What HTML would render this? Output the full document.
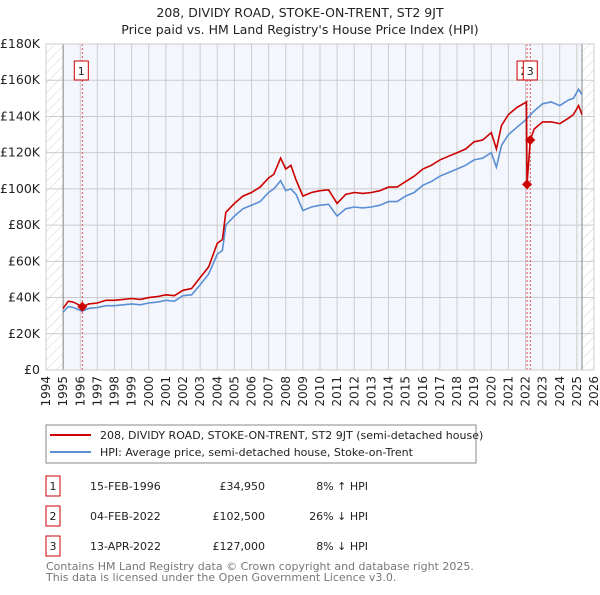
<!DOCTYPE html>
<html><head><meta charset="utf-8">
<style>
body{margin:0;background:#fff;font-family:"Liberation Sans","DejaVu Sans",sans-serif;}
svg text{font-family:"DejaVu Sans","Liberation Sans",sans-serif;}
</style></head>
<body>
<svg id="chart" width="600" height="590" xmlns="http://www.w3.org/2000/svg">
<defs>
<pattern id="hatch" width="7" height="7" patternUnits="userSpaceOnUse" patternTransform="rotate(45)">
<line x1="0" y1="0" x2="0" y2="7" stroke="#d4d4d4" stroke-width="1"/></pattern>
</defs>
<text x="300" y="17" text-anchor="middle" font-size="12.5" fill="#222">208, DIVIDY ROAD, STOKE-ON-TRENT, ST2 9JT</text>
<text x="300" y="34" text-anchor="middle" font-size="12.5" fill="#222">Price paid vs. HM Land Registry's House Price Index (HPI)</text>
<g id="plot"></g>
<g id="legend">
<rect x="46" y="425" width="430" height="38" fill="#fff" stroke="#888"/>
<line x1="50" y1="435" x2="91" y2="435" stroke="#cc0000" stroke-width="2"/>
<text x="100" y="439" font-size="11" fill="#222">208, DIVIDY ROAD, STOKE-ON-TRENT, ST2 9JT (semi-detached house)</text>
<line x1="50" y1="452" x2="91" y2="452" stroke="#5b8fd4" stroke-width="2"/>
<text x="100" y="456" font-size="11" fill="#222">HPI: Average price, semi-detached house, Stoke-on-Trent</text>
</g>
<g id="table"></g>
<text x="46" y="570" font-size="11" fill="#777">Contains HM Land Registry data © Crown copyright and database right 2025.</text>
<text x="46" y="581" font-size="11" fill="#777">This data is licensed under the Open Government Licence v3.0.</text>
</svg>
<script>
const yTicks=[0,20,40,60,80,100,120,140,160,180];
const years=[1994,1995,1996,1997,1998,1999,2000,2001,2002,2003,2004,2005,2006,2007,2008,2009,2010,2011,2012,2013,2014,2015,2016,2017,2018,2019,2020,2021,2022,2023,2024,2025,2026];
const hpiX=[1995.0,1995.3,1995.6,1996.1,1996.5,1997,1997.5,1998,1998.5,1999,1999.5,2000,2000.5,2001,2001.5,2002,2002.5,2003,2003.5,2004,2004.3,2004.5,2005,2005.5,2006,2006.5,2007,2007.3,2007.7,2008,2008.3,2008.6,2009,2009.5,2010,2010.5,2011,2011.5,2012,2012.5,2013,2013.5,2014,2014.5,2015,2015.5,2016,2016.5,2017,2017.5,2018,2018.5,2019,2019.5,2020,2020.3,2020.6,2021,2021.5,2022.0,2022.5,2023,2023.5,2024,2024.5,2024.8,2025.1,2025.3];
const hpiY=[32,35,34.5,32.5,34,34.5,35.5,35.5,36,36.5,36,37,37.5,38.5,38,41,41.5,47,53,64,66,80,85,89,91,93,98,100,104.5,99,100,97,88,90,91,91.5,85,89,90,89.5,90,91,93,93,96,98,102,104,107,109,111,113,116,117,120,112,124,130,134,138,143,147,148,146,149,150,155,152];
const redX=[1995.0,1995.3,1995.6,1996.12,1996.5,1997,1997.5,1998,1998.5,1999,1999.5,2000,2000.5,2001,2001.5,2002,2002.5,2003,2003.5,2004,2004.3,2004.5,2005,2005.5,2006,2006.5,2007,2007.3,2007.7,2008,2008.3,2008.6,2009,2009.5,2010,2010.5,2011,2011.5,2012,2012.5,2013,2013.5,2014,2014.5,2015,2015.5,2016,2016.5,2017,2017.5,2018,2018.5,2019,2019.5,2020,2020.3,2020.6,2021,2021.5,2022.05,2022.09,2022.28,2022.5,2023,2023.5,2024,2024.5,2024.8,2025.1,2025.3];
const redY=[34,38,37.5,34.95,36.5,37,38.5,38.5,39,39.5,39,40,40.5,41.5,41,44,45,51,57,70,72,87,92,96,98,101,106,108,117,111,113,105,96,98,99,99.5,92,97,98,97.5,98,99,101,101,104,107,111,113,116,118,120,122,126,127,131,122,135,141,145,148,102.5,127,133,137,137,136,139,141,146,141];
const saleNum=["1","2","3"];
const saleX=[1996.12,2022.09,2022.28];
const saleY=[34.95,102.5,127];
const saleDate=["15-FEB-1996","04-FEB-2022","13-APR-2022"];
const salePrice=["£34,950","£102,500","£127,000"];
const saleHpi=["8% ↑ HPI","26% ↓ HPI","8% ↓ HPI"];

const NS="http://www.w3.org/2000/svg";
const X0=46,X1=594,Y0=370,Y1=44;
const xs=v=>X0+(v-1994)*(X1-X0)/32;
const ys=v=>Y0-v*(Y0-Y1)/180;
const plot=document.getElementById('plot');
function mk(tag,attrs,parent){const e=document.createElementNS(NS,tag);for(const k in attrs)e.setAttribute(k,attrs[k]);(parent||plot).appendChild(e);return e;}

let bg=mk('rect',{x:xs(1995),y:Y1,width:xs(2025.3)-xs(1995),height:Y0-Y1,fill:'#f3f6fd'});


let h1=mk('rect',{x:X0,y:Y1,width:xs(1995)-X0,height:Y0-Y1,fill:'url(#hatch)'});


let h2=mk('rect',{x:xs(2025.3),y:Y1,width:X1-xs(2025.3),height:Y0-Y1,fill:'url(#hatch)'});


for(const y of years){
  const g=mk('line',{x1:xs(y),x2:xs(y),y1:Y1,y2:Y0,stroke:'#ccc','stroke-width':1});
  
  
  const t=mk('text',{x:0,y:0,'font-size':12,fill:'#222','text-anchor':'end',transform:`translate(${xs(y)+4},376) rotate(-90)`});
  t.textContent=y;
  
  
}
for(const v of yTicks){
  const g=mk('line',{x1:X0,x2:X1,y1:ys(v),y2:ys(v),stroke:'#ccc','stroke-width':1});
  
  
  const t=mk('text',{x:40,y:ys(v)+4,'font-size':12.5,fill:'#222','text-anchor':'end'});
  t.textContent=v===0?'£0':'£'+v+'K';
  
  
}
let l1=mk('line',{x1:xs(1995),x2:xs(1995),y1:Y1,y2:Y0,stroke:'#888'});


let l2=mk('line',{x1:xs(2025.3),x2:xs(2025.3),y1:Y1,y2:Y0,stroke:'#888'});


saleX.forEach((sx,i)=>{
  const d=mk('line',{x1:xs(sx),x2:xs(sx),y1:Y1,y2:Y0,stroke:'#e05050','stroke-dasharray':'2,2'});
  
  
});
const pts=(X,Y)=>X.map((x,i)=>xs(x).toFixed(1)+','+ys(Y[i]).toFixed(1)).join(' ');
let hp=mk('polyline',{points:pts(hpiX,hpiY),fill:'none',stroke:'#5b8fd4','stroke-width':1.6});


let rp=mk('polyline',{points:pts(redX,redY),fill:'none',stroke:'#cc0000','stroke-width':1.6});


saleX.forEach((sx,i)=>{
  const cx=xs(sx),cy=ys(saleY[i]);
  const p=mk('polygon',{points:`${cx},${cy-5} ${cx+5},${cy} ${cx},${cy+5} ${cx-5},${cy}`,fill:'#cc0000'});
  
  
});
const boxOff=[-8,-10,-7];
saleX.forEach((sx,i)=>{
  const bx=xs(sx)+boxOff[i];
  const r=mk('rect',{x:bx,y:61,width:14,height:19,fill:'#fff',stroke:'#cc0000'});
  
  
  const t=mk('text',{x:bx+7,y:75,'font-size':11,'text-anchor':'middle',fill:'#222'});
  t.textContent=saleNum[i];
  
  
});
let fr=mk('rect',{x:X0,y:Y1,width:X1-X0,height:Y0-Y1,fill:'none',stroke:'#ccc'});



const tbl=document.getElementById('table');
const rowY=[486,516,546];
saleNum.forEach((n,i)=>{
  const y=rowY[i];
  const r=mk('rect',{x:46,y:y-10,width:14,height:20,fill:'#fff',stroke:'#cc0000'},tbl);
  
  
  const cells=[[53,n,'middle'],[90,saleDate[i],'start'],[265,salePrice[i],'end'],[368,saleHpi[i],'end']];
  cells.forEach((c,j)=>{
    const t=mk('text',{x:c[0],y:y+4,'font-size':11,fill:'#222','text-anchor':c[2]},tbl);
    t.textContent=c[1];
    
    
  });
});
</script>
</body></html>
